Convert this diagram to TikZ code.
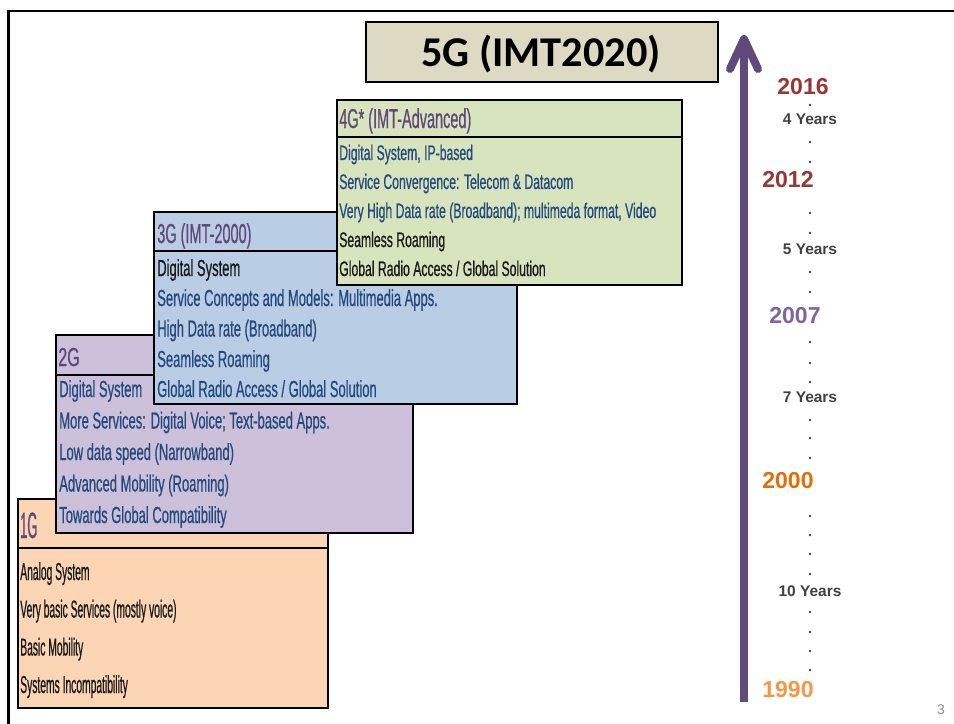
\documentclass[tikz,border=0pt]{standalone}
\usepackage{fontspec}
\setmainfont{Liberation Sans}
\newfontfamily\fOneBody[FakeStretch=0.42,FakeBold=0.6]{Liberation Sans}
\newfontfamily\fOneHead[FakeStretch=0.35,FakeBold=0.6]{Liberation Sans}
\newfontfamily\fBody[FakeStretch=0.56,FakeBold=0.6]{Liberation Sans}
\newfontfamily\fBodyF[FakeStretch=0.58,FakeBold=0.6]{Liberation Sans}
\newfontfamily\fHead[FakeStretch=0.53,FakeBold=0.6]{Liberation Sans}
\newfontfamily\fTwoHead[FakeStretch=0.62,FakeBold=0.6]{Liberation Sans}
\newfontfamily\fCal{Carlito}
\definecolor{c1g}{HTML}{FCD5B5}
\definecolor{c2g}{HTML}{CCC0DA}
\definecolor{c3g}{HTML}{B9CDE5}
\definecolor{c4g}{HTML}{D7E4BD}
\definecolor{c5g}{HTML}{DDD9C3}
\definecolor{hdrpurple}{HTML}{60497A}
\definecolor{bodyblue}{HTML}{254A7E}
\definecolor{blk}{HTML}{1A1A1A}
\definecolor{arrowpurple}{HTML}{604A7B}
\definecolor{yred}{HTML}{953735}
\definecolor{ypurple}{HTML}{8064A2}
\definecolor{yorange}{HTML}{E46C0A}
\definecolor{ylight}{HTML}{F79646}
\definecolor{ygray}{HTML}{404040}
\definecolor{pgray}{HTML}{8C8C8C}
\tikzset{
  boxline/.style={draw=black, line width=2.2pt},
  txt/.style={anchor=base west, inner sep=0pt},
  onebody/.style={txt, text=blk, font=\fOneBody\fontsize{18.4pt}{20pt}\selectfont},
  onehead/.style={txt, text=hdrpurple, font=\fOneHead\fontsize{27.5pt}{30pt}\selectfont},
  twohead/.style={txt, text=hdrpurple, font=\fTwoHead\fontsize{19.5pt}{21pt}\selectfont},
  head/.style={txt, text=hdrpurple, font=\fHead\fontsize{20.5pt}{22pt}\selectfont},
  body/.style={txt, text=bodyblue, font=\fBody\fontsize{17.4pt}{19pt}\selectfont},
  bodyf/.style={txt, text=bodyblue, font=\fBodyF\fontsize{15.8pt}{17pt}\selectfont},
  year/.style={anchor=base, inner sep=0pt, font=\bfseries\fontsize{17.3pt}{19pt}\selectfont},
  span/.style={anchor=base, inner sep=0pt, text=ygray, font=\bfseries\fontsize{11.6pt}{13pt}\selectfont},
  arrowline/.style={draw=arrowpurple, line width=6pt},
}
\begin{document}
\begin{tikzpicture}[x=0.75pt,y=-0.75pt]
\useasboundingbox (0,0) rectangle (954,724);
% frame
\draw[line width=1.9pt, black] (8.5,724) -- (8.5,11) -- (954,11);

% 1G
\draw[boxline, fill=c1g] (18,499) rectangle (328,708);
\draw[boxline] (18,548) -- (328,548);
\node[onehead] (h1) at (20,538) {1G};
\node[onebody] (a1) at (20,580) {Analog System};
\node[onebody] (a2) at (20,617.5) {Very basic Services (mostly voice)};
\node[onebody] (a3) at (20,655.5) {Basic Mobility};
\node[onebody] (a4) at (20,693) {Systems Incompatibility};

% 2G
\draw[boxline, fill=c2g] (56,335) rectangle (413,533);
\draw[boxline] (56,375) -- (413,375);
\node[twohead] (h2) at (58,366) {2G};
\node[body] (b1) at (59,397) {Digital System};
\node[body] (b2) at (59,428.5) {More Services: Digital Voice; Text-based Apps.};
\node[body] (b3) at (59,460) {Low data speed (Narrowband)};
\node[body] (b4) at (59,491.5) {Advanced Mobility (Roaming)};
\node[body] (b5) at (59,523) {Towards Global Compatibility};

% 3G
\draw[boxline, fill=c3g] (154,212) rectangle (517,404);
\draw[boxline] (154,251) -- (517,251);
\node[head] (h3) at (157,243) {3G (IMT-2000)};
\node[body, text=blk] (c1) at (157,276) {Digital System};
\node[body] (c2) at (157,306) {Service Concepts and Models: Multimedia Apps.};
\node[body] (c3) at (157,336.5) {High Data rate (Broadband)};
\node[body] (c4) at (157,367) {Seamless Roaming};
\node[body] (c5) at (157,397) {Global Radio Access / Global Solution};

% 4G
\draw[boxline, fill=c4g] (337,100) rectangle (682,285);
\draw[boxline] (337,137) -- (682,137);
\node[head] (h4) at (339,128) {4G* (IMT-Advanced)};
\node[bodyf] (d1) at (339,160) {Digital System, IP-based};
\node[bodyf] (d2) at (339,189) {Service Convergence: Telecom \& Datacom};
\node[bodyf] (d3) at (339,218) {Very High Data rate (Broadband); multimeda format, Video};
\node[bodyf, text=blk] (d4) at (339,247) {Seamless Roaming};
\node[bodyf, text=blk] (d5) at (339,276) {Global Radio Access / Global Solution};

% 5G
\draw[boxline, fill=c5g] (366,22) rectangle (718,82);
\node[anchor=base, inner sep=0pt, font=\fCal\bfseries\fontsize{31.8pt}{34pt}\selectfont, text=black] (h5) at (541,67) {5G (IMT2020)};

% arrow
\coordinate (abot) at (744,702);
\coordinate (atop) at (744,42);
\coordinate (wl) at (730,69);
\coordinate (tip) at (744,39);
\coordinate (wr) at (758,69);
\draw[arrowline] (abot) -- (atop);
\draw[arrowline, line cap=round, line join=round] (wl) -- (tip) -- (wr);

% timeline labels
\node[year, text=yred] (y2016) at (803,95) {2016};
\node[year, text=yred] (y2012) at (788,187) {2012};
\node[year, text=ypurple] (y2007) at (795,323) {2007};
\node[year, text=yorange] (y2000) at (788,488) {2000};
\node[year, text=ylight] (y1990) at (788,697) {1990};
\node[span] (s4) at (810,125) {4 Years};
\node[span] (s5) at (810,254) {5 Years};
\node[span] (s7) at (810,402) {7 Years};
\node[span] (s10) at (810,596) {10 Years};
\foreach \yy in {85,105,142,162,213,233,272,292,342,363,382,420,438,458,516,535,554,574,612,632,651,670}
  \fill[ygray] (810,\yy) circle[radius=1.1pt];

% page number
\node[inner sep=0pt, text=pgray, font=\fontsize{10.5pt}{12pt}\selectfont] (pg) at (941,710) {3};
\end{tikzpicture}
\end{document}
